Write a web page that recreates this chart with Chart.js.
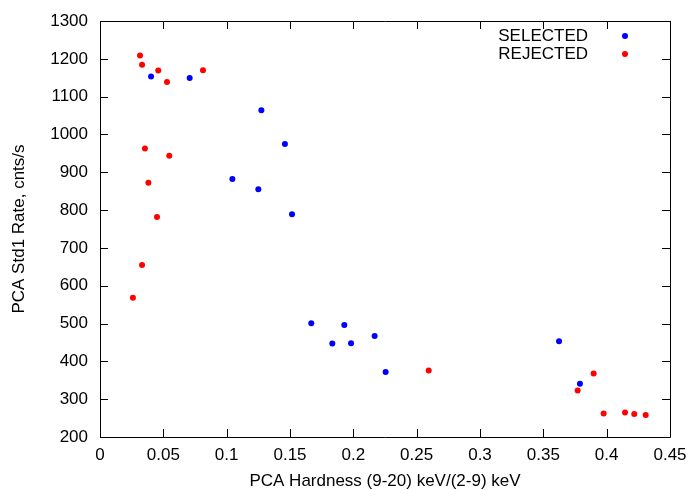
<!DOCTYPE html>
<html>
<head>
<meta charset="utf-8">
<script src="https://cdn.jsdelivr.net/npm/chart.js@4/dist/chart.umd.min.js"></script>
<style>
  html, body { margin:0; padding:0; background:#fff; }
  #wrap { width:700px; height:490px; }
</style>
</head>
<body>
<div id="wrap"><canvas id="pcaChart"></canvas></div>
<script>
// values
const selectedX = [0.0403, 0.0708, 0.1274, 0.146, 0.1045, 0.125, 0.1516, 0.1668, 0.1929, 0.1834, 0.1982, 0.2168, 0.2255, 0.3624, 0.3789];
const selectedY = [1153, 1149, 1064, 975, 882, 855, 789, 501, 496, 447, 448, 467, 372, 453, 341];
const rejectedX = [0.0316, 0.0332, 0.046, 0.0529, 0.0813, 0.0355, 0.0547, 0.0382, 0.045, 0.0332, 0.026, 0.2595, 0.3897, 0.3771, 0.3976, 0.4145, 0.4218, 0.4308];
const rejectedY = [1209, 1184, 1169, 1139, 1170, 963, 944, 872, 782, 655, 568, 376, 368, 323, 262, 265, 261, 258];
const xTicks = [0, 0.05, 0.1, 0.15, 0.2, 0.25, 0.3, 0.35, 0.4, 0.45];
const yTicks = [200, 300, 400, 500, 600, 700, 800, 900, 1000, 1100, 1200, 1300];
const seriesNames = ['SELECTED', 'REJECTED'];
const seriesColors = ['#0000ff', '#ff0000'];

const FONT = '"Liberation Sans", Arial, sans-serif';
const FSIZE = 17;

const toPoints = (xs, ys) => xs.map((x, i) => ({ x: x, y: ys[i] }));

// gnuplot-style frame: box plus inward ticks on all four sides, legend at top right
const framePlugin = {
  id: 'frame',
  afterDatasetsDraw(chart) {
    const { ctx, chartArea: a, scales } = chart;
    ctx.save();
    ctx.strokeStyle = '#000';
    ctx.lineWidth = 1;
    ctx.beginPath();
    ctx.rect(Math.round(a.left) + 0.5, Math.round(a.top) + 0.5, Math.round(a.right - a.left), Math.round(a.bottom - a.top));
    ctx.stroke();
    const len = 8;
    ctx.beginPath();
    xTicks.forEach(v => {
      const px = Math.round(scales.x.getPixelForValue(v)) + 0.5;
      ctx.moveTo(px, a.bottom); ctx.lineTo(px, a.bottom - len);
      ctx.moveTo(px, a.top); ctx.lineTo(px, a.top + len);
    });
    yTicks.forEach(v => {
      const py = Math.round(scales.y.getPixelForValue(v)) + 0.5;
      ctx.moveTo(a.left, py); ctx.lineTo(a.left + len, py);
      ctx.moveTo(a.right, py); ctx.lineTo(a.right - len, py);
    });
    ctx.stroke();

    ctx.font = FSIZE + 'px ' + FONT;
    ctx.textAlign = 'right';
    ctx.textBaseline = 'middle';
    seriesNames.forEach((name, i) => {
      const y = a.top + 15 + i * 18;
      ctx.fillStyle = '#000';
      ctx.fillText(name, a.right - 82, y);
      ctx.fillStyle = seriesColors[i];
      ctx.beginPath();
      ctx.arc(a.right - 45, y, 3, 0, Math.PI * 2);
      ctx.fill();
    });
    ctx.restore();
  }
};

new Chart(document.getElementById('pcaChart'), {
  type: 'scatter',
  data: {
    datasets: [
      { label: seriesNames[0], data: toPoints(selectedX, selectedY), backgroundColor: seriesColors[0], borderColor: seriesColors[0], pointRadius: 3, borderWidth: 0 },
      { label: seriesNames[1], data: toPoints(rejectedX, rejectedY), backgroundColor: seriesColors[1], borderColor: seriesColors[1], pointRadius: 3, borderWidth: 0 }
    ]
  },
  options: {
    responsive: true,
    maintainAspectRatio: false,
    animation: false,
    layout: { padding: { top: 21, right: 30, left: 9, bottom: 0 } },
    plugins: { legend: { display: false }, tooltip: { enabled: false } },
    scales: {
      x: {
        type: 'linear', min: 0, max: 0.45,
        grid: { display: false }, border: { display: false },
        afterBuildTicks: s => { s.ticks = xTicks.map(v => ({ value: v })); },
        afterFit: s => { s.height = 53; },
        ticks: { color: '#000', font: { family: FONT, size: FSIZE }, padding: 0, maxRotation: 0, callback: v => String(+v.toFixed(2)) },
        title: { display: true, text: 'PCA Hardness (9-20) keV/(2-9) keV', color: '#000', font: { family: FONT, size: FSIZE, lineHeight: 1 }, padding: { top: 4, bottom: 0 } }
      },
      y: {
        type: 'linear', min: 200, max: 1300,
        grid: { display: false }, border: { display: false },
        afterBuildTicks: s => { s.ticks = yTicks.map(v => ({ value: v })); },
        afterFit: s => { s.width = 91; },
        ticks: { color: '#000', font: { family: FONT, size: FSIZE }, padding: 4, callback: v => String(v) },
        title: { display: true, text: 'PCA Std1 Rate, cnts/s', color: '#000', font: { family: FONT, size: FSIZE }, padding: { top: 0, bottom: 14 } }
      }
    }
  },
  plugins: [framePlugin]
});
</script>
</body>
</html>
